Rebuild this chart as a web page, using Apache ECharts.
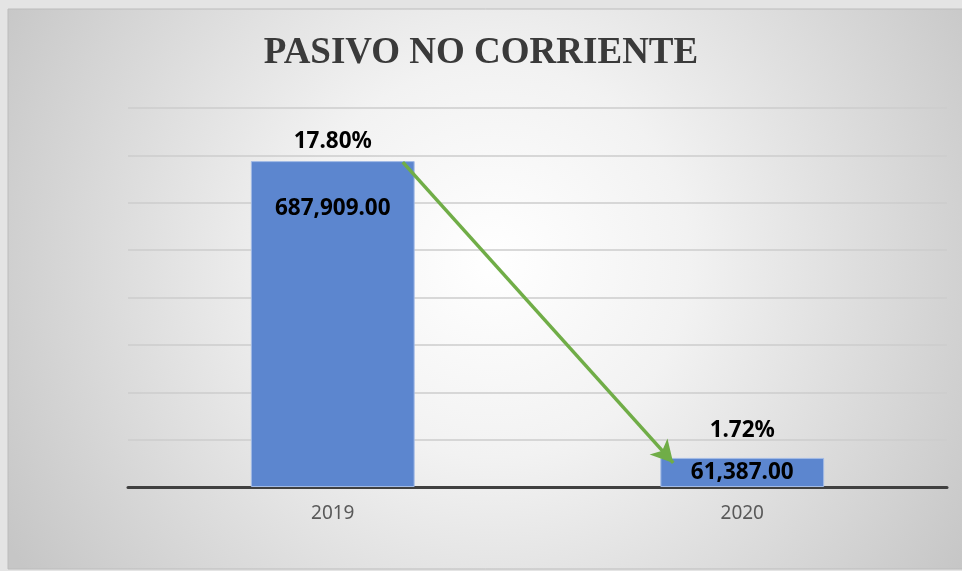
<!DOCTYPE html>
<html>
<head>
<meta charset="utf-8">
<script src="https://cdn.jsdelivr.net/npm/echarts@6/dist/echarts.min.js"></script>
<style>
  html, body { margin: 0; padding: 0; background: #e4e4e4; }
  #chart { width: 962px; height: 571px; }
</style>
</head>
<body>
<div id="chart"></div>
<script>
// datos
const years = ['2019', '2020']
const pasivoNoCorriente = [687909, 61387]
const porcentajes = ['17.80%', '1.72%']

const chart = echarts.init(document.getElementById('chart'))

function fmt (v) {
  return v.toLocaleString('en-US', { minimumFractionDigits: 2, maximumFractionDigits: 2 })
}

const labelFont = { fontFamily: 'Noto Sans', fontWeight: 'bold', fontSize: 22.5, color: '#000' }

const option = {
  backgroundColor: 'transparent',
  graphic: [
    {
      type: 'rect',
      z: -10,
      silent: true,
      shape: { x: 8, y: 9, width: 970, height: 560 },
      style: {
        fill: {
          type: 'radial', x: 0.5, y: 0.45, r: 1,
          colorStops: [
            { offset: 0, color: '#ffffff' },
            { offset: 0.35, color: '#f2f2f2' },
            { offset: 1, color: '#c6c6c6' }
          ]
        },
        stroke: '#bcbcbc',
        lineWidth: 1
      }
    }
  ],
  title: {
    text: 'PASIVO NO CORRIENTE',
    left: 'center',
    top: 30,
    textStyle: {
      fontFamily: 'Liberation Serif',
      fontWeight: 'bold',
      fontSize: 37,
      color: '#3a3a3a'
    }
  },
  grid: { left: 128, right: 15, top: 108, bottom: 84 },
  xAxis: {
    type: 'category',
    data: years,
    axisTick: { show: false },
    axisLine: { lineStyle: { color: '#404040', width: 3 } },
    axisLabel: { fontFamily: 'Noto Sans', fontSize: 19, color: '#595959', margin: 17 }
  },
  yAxis: {
    type: 'value',
    min: 0,
    max: 800000,
    interval: 100000,
    axisLabel: { show: false },
    axisLine: { show: false },
    axisTick: { show: false },
    splitLine: { lineStyle: { color: '#cdcdcd', width: 1.5 } }
  },
  series: [
    {
      name: 'Pasivo no corriente',
      type: 'bar',
      barWidth: '40%',
      itemStyle: { color: '#5c86cf', borderColor: '#a3bbe6', borderWidth: 1 },
      label: {
        show: true,
        ...labelFont,
        formatter: p => fmt(p.value)
      },
      data: pasivoNoCorriente.map((v, i) => ({
        value: v,
        label: i === 0 ? { position: 'insideTop', distance: 36 } : { position: 'inside' }
      }))
    },
    {
      name: 'Porcentaje',
      type: 'bar',
      barWidth: '40%',
      barGap: '-100%',
      silent: true,
      itemStyle: { color: 'rgba(0,0,0,0)' },
      label: {
        show: true,
        position: 'top',
        ...labelFont,
        formatter: p => porcentajes[p.dataIndex]
      },
      data: pasivoNoCorriente.map((v, i) => ({
        value: v,
        label: { distance: i === 0 ? 8 : 16 }
      }))
    }
  ]
}

chart.setOption(option)

// flecha verde entre las dos barras
const a = chart.convertToPixel({ seriesIndex: 0 }, [0, pasivoNoCorriente[0]])
const b = chart.convertToPixel({ seriesIndex: 0 }, [1, pasivoNoCorriente[1]])
chart.setOption({
  series: [{
    markLine: {
      silent: true,
      symbol: ['none', 'arrow'],
      symbolSize: [18, 22],
      label: { show: false },
      lineStyle: { color: '#70ad47', width: 3.5, type: 'solid' },
      data: [[
        { x: a[0] + 70, y: a[1] + 1 },
        { x: b[0] - 69, y: b[1] + 5 }
      ]]
    }
  }]
})
</script>
</body>
</html>
